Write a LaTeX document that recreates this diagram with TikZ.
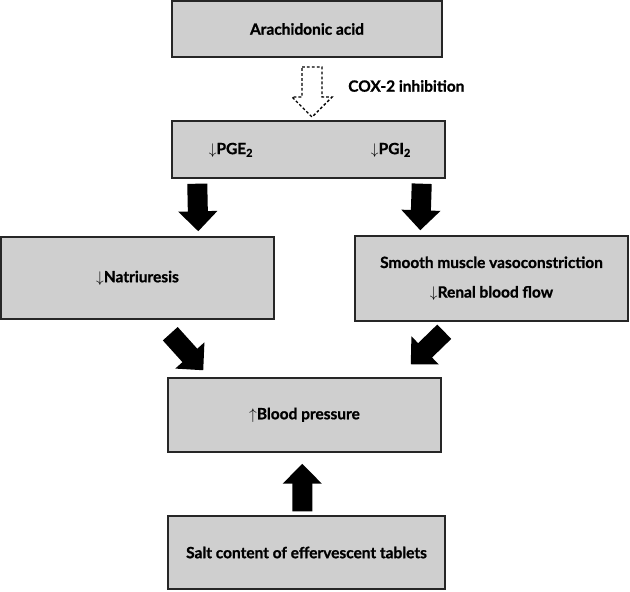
\documentclass[tikz,border=0pt]{standalone}
\usepackage{fontspec}
\setmainfont{Lato}[BoldFeatures={FakeBold=1}]
\usetikzlibrary{positioning,arrows.meta,calc}

\begin{document}
\begin{tikzpicture}[x=0.025cm,y=-0.025cm,font=\bfseries\fontsize{11}{13}\selectfont]
\tikzstyle{bx} = [draw=black!85,fill=black!19,line width=1pt,shape=rectangle,inner sep=0pt]
\tikzstyle{blk} = [line width=0.5cm,-{Triangle[length=0.5cm,width=0.95cm]}]
\useasboundingbox (0,0) rectangle (630,591);
% boxes
\node[bx,minimum width=6.75cm,minimum height=1.4cm] (AA) at (307,29) {Arachidonic acid} ;
\node[bx,minimum width=6.825cm,minimum height=1.425cm] (PG) at (308.5,149.5) {} ;
\node (PGE) at (231,150) {$\downarrow$PGE\textsubscript{2}} ;
\node (PGI) at (391,150) {$\downarrow$PGI\textsubscript{2}} ;
\node[bx,minimum width=6.825cm,minimum height=2.05cm] (NA) at (137.5,278) {$\downarrow$Natriuresis} ;
\node[bx,minimum width=6.825cm,minimum height=2.125cm,align=center] (SM) at (491.5,278.5) {Smooth muscle vasoconstriction\\[8pt]$\downarrow$Renal blood flow} ;
\node[bx,minimum width=6.825cm,minimum height=1.85cm] (BP) at (304.5,415) {$\uparrow$Blood pressure} ;
\node[bx,minimum width=6.925cm,minimum height=1.825cm] (SC) at (306.5,552.5) {Salt content of effervescent tablets} ;
% dashed block arrow
\draw[dashed,dash pattern=on 2pt off 1.5pt,line width=1pt,fill=white] (302,67) -- (322,67) -- (322,97) -- (332,97) -- (312,117) -- (292,97) -- (302,97) -- cycle;
\node[right,inner sep=0pt] (CI) at (348,86) {COX-2 inhibition} ;
% black arrows
\draw[blk] ($(PG.south west)+(26,5)$) -- ($(NA.north west)+(198,-5)$) ;
\draw[blk] ($(PG.south east)+(-24,5)$) -- ($(SM.north west)+(66,-5)$) ;
\draw[blk] ($(NA.south west)+(170,14)$) -- ($(BP.north west)+(36,-7)$) ;
\draw[blk] ($(SM.south west)+(90,10)$) -- ($(BP.north east)+(-31,-13)$) ;
\draw[blk] ($(SC.north west)+(135,-4)$) -- ($(BP.south west)+(135,11)$) ;
\end{tikzpicture}
\end{document}
